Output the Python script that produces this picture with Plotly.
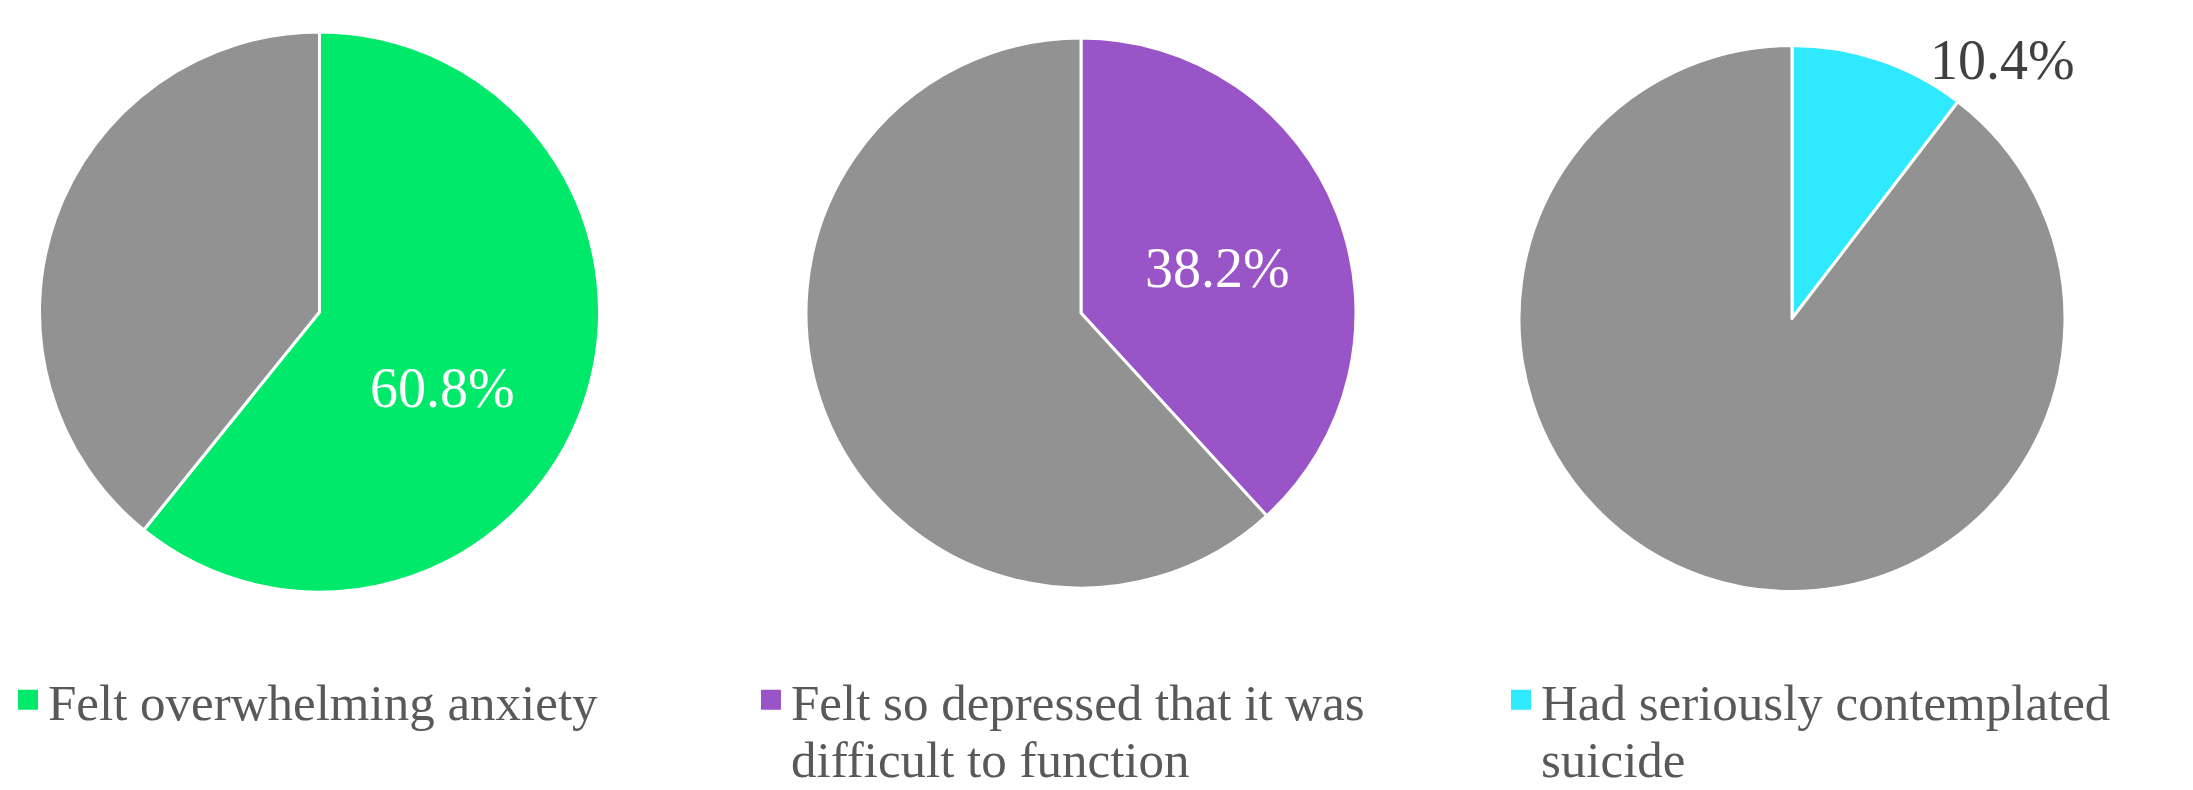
import plotly.graph_objects as go

categories = ["Felt overwhelming anxiety",
              "Felt so depressed that it was<br>difficult to function",
              "Had seriously contemplated<br>suicide"]
values = [60.8, 38.2, 10.4]
colors = ["#00E96B", "#9954C8", "#2FE9FF"]
rest_color = "#929292"

W, H = 2193, 790
FONT = "Liberation Serif"

# pie centers / radii in pixels (layout)
pies = [(319.5, 312, 280), (1081, 313, 275), (1792, 318.5, 273)]
# data-label anchor positions in pixels (layout)
label_pos = [(442, 388), (1217, 268), (2002, 60)]
label_col = ["white", "white", "#404040"]

fig = go.Figure()
for i, (cat, v, c) in enumerate(zip(categories, values, colors)):
    cx, cy, r = pies[i]
    fig.add_trace(go.Pie(
        values=[v, round(100 - v, 1)],
        labels=[cat.replace("<br>", " "), "Other"],
        marker=dict(colors=[c, rest_color], line=dict(color="white", width=3)),
        sort=False, direction="clockwise", rotation=0,
        textinfo="none",
        showlegend=False, hoverinfo="label+value",
        domain=dict(x=[(cx - r) / W, (cx + r) / W],
                    y=[(H - cy - r) / H, (H - cy + r) / H]),
    ))
    lx, ly = label_pos[i]
    fig.add_annotation(x=lx / W, y=(H - ly) / H, xref="paper", yref="paper",
                       xanchor="center", yanchor="middle",
                       text=f"{v:.1f}%", showarrow=False,
                       font=dict(family=FONT, size=56, color=label_col[i]))

# legend entries via dummy traces (one legend per text line)
LEG_FONT = dict(family=FONT, size=51, color="#595959")
legend_x = [8, 751, 1501]
first_top, line_step = 660, 57
leg_idx = 0
for cat, c, lx in zip(categories, colors, legend_x):
    for j, line in enumerate(cat.split("<br>")):
        leg_idx += 1
        lg = "legend" if leg_idx == 1 else f"legend{leg_idx}"
        mcol = c if j == 0 else "rgba(0,0,0,0)"
        fig.add_trace(go.Scatter(
            x=[None], y=[None], mode="markers", name=line,
            marker=dict(symbol="square", size=16, color=mcol,
                        line=dict(color=mcol, width=4 if j == 0 else 0)),
            legend=lg, showlegend=True, hoverinfo="skip"))
        fig.update_layout(**{lg: dict(
            x=lx / W, y=(H - (first_top + j * line_step)) / H,
            orientation="v", xanchor="left", yanchor="top",
            font=LEG_FONT, bgcolor="rgba(0,0,0,0)", borderwidth=0,
            itemclick=False, itemdoubleclick=False)})

fig.update_layout(width=W, height=H,
                  margin=dict(l=0, r=0, t=0, b=0, pad=0, autoexpand=False),
                  paper_bgcolor="white", plot_bgcolor="white",
                  xaxis=dict(visible=False), yaxis=dict(visible=False))

fig.write_html("out.html", config={"displayModeBar": False},
               post_script="document.body.style.margin='0';"
                           "document.body.style.padding='0';"
                           "document.body.style.overflow='hidden';")
